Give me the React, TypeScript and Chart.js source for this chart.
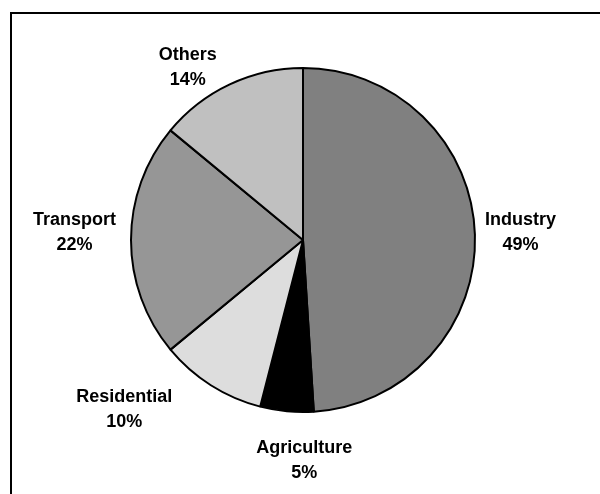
import React, { useEffect, useRef } from "react";
import { Chart, registerables } from "chart.js";

Chart.register(...registerables);

const categories = ["Industry", "Agriculture", "Residential", "Transport", "Others"];
const shares = [49, 5, 10, 22, 14];
const sliceColors = ["#808080", "#000000", "#dddddd", "#969696", "#c0c0c0"];
// small label nudges (px) relative to the geometric outside-end anchor
const labelNudgeX = [-1, 23, -55, -4, -25];
const labelNudgeY = [-1, 16, -4, -7, 13];

const FONT = "bold 18px 'Liberation Sans', Arial, sans-serif";
const LINE_H = 25;

const labelPlugin = {
  id: "outsideLabels",
  afterDatasetsDraw(chart: any) {
    const ctx = chart.ctx;
    const meta = chart.getDatasetMeta(0);
    ctx.save();
    ctx.font = FONT;
    ctx.fillStyle = "#000";
    ctx.textAlign = "center";
    ctx.textBaseline = "middle";
    meta.data.forEach((arc: any, i: number) => {
      const p = arc.getProps(["x", "y", "startAngle", "endAngle", "outerRadius"], true);
      const mid = (p.startAngle + p.endAngle) / 2;
      const ux = Math.cos(mid);
      const uy = Math.sin(mid);
      const lines = [categories[i], shares[i] + "%"];
      const w = Math.max(...lines.map((l) => ctx.measureText(l).width));
      const h = 45;
      const d = p.outerRadius + 11;
      const cx = p.x + ux * d + (ux * w) / 2 + labelNudgeX[i];
      const cy = p.y + uy * d + (uy * h) / 2 + labelNudgeY[i];
      lines.forEach((l, k) => {
        ctx.fillText(l, cx, cy + (k - (lines.length - 1) / 2) * LINE_H);
      });
    });
    ctx.restore();
  },
};

export default function App() {
  const ref = useRef<HTMLCanvasElement | null>(null);
  useEffect(() => {
    if (!ref.current) return;
    const chart = new Chart(ref.current, {
      type: "pie",
      data: {
        labels: categories,
        datasets: [
          {
            data: shares,
            backgroundColor: sliceColors,
            borderColor: "#000000",
            borderWidth: 2,
            radius: 172,
          } as any,
        ],
      },
      options: {
        responsive: false,
        animation: false,
        layout: { padding: { left: 6, right: 0, top: 0, bottom: 14 } },
        plugins: {
          legend: { display: false },
          tooltip: { enabled: false },
        },
      },
      plugins: [labelPlugin],
    });
    return () => chart.destroy();
  }, []);

  return (
    <div
      style={{
        position: "fixed",
        left: 0,
        top: 0,
        width: 600,
        height: 494,
        overflow: "hidden",
        background: "#fff",
      }}
    >
      <div
        style={{
          position: "absolute",
          left: 10,
          top: 12,
          width: 640,
          height: 540,
          border: "2px solid #000",
        }}
      />
      <canvas
        ref={ref}
        width={600}
        height={494}
        style={{ position: "absolute", left: 0, top: 0 }}
      />
    </div>
  );
}
